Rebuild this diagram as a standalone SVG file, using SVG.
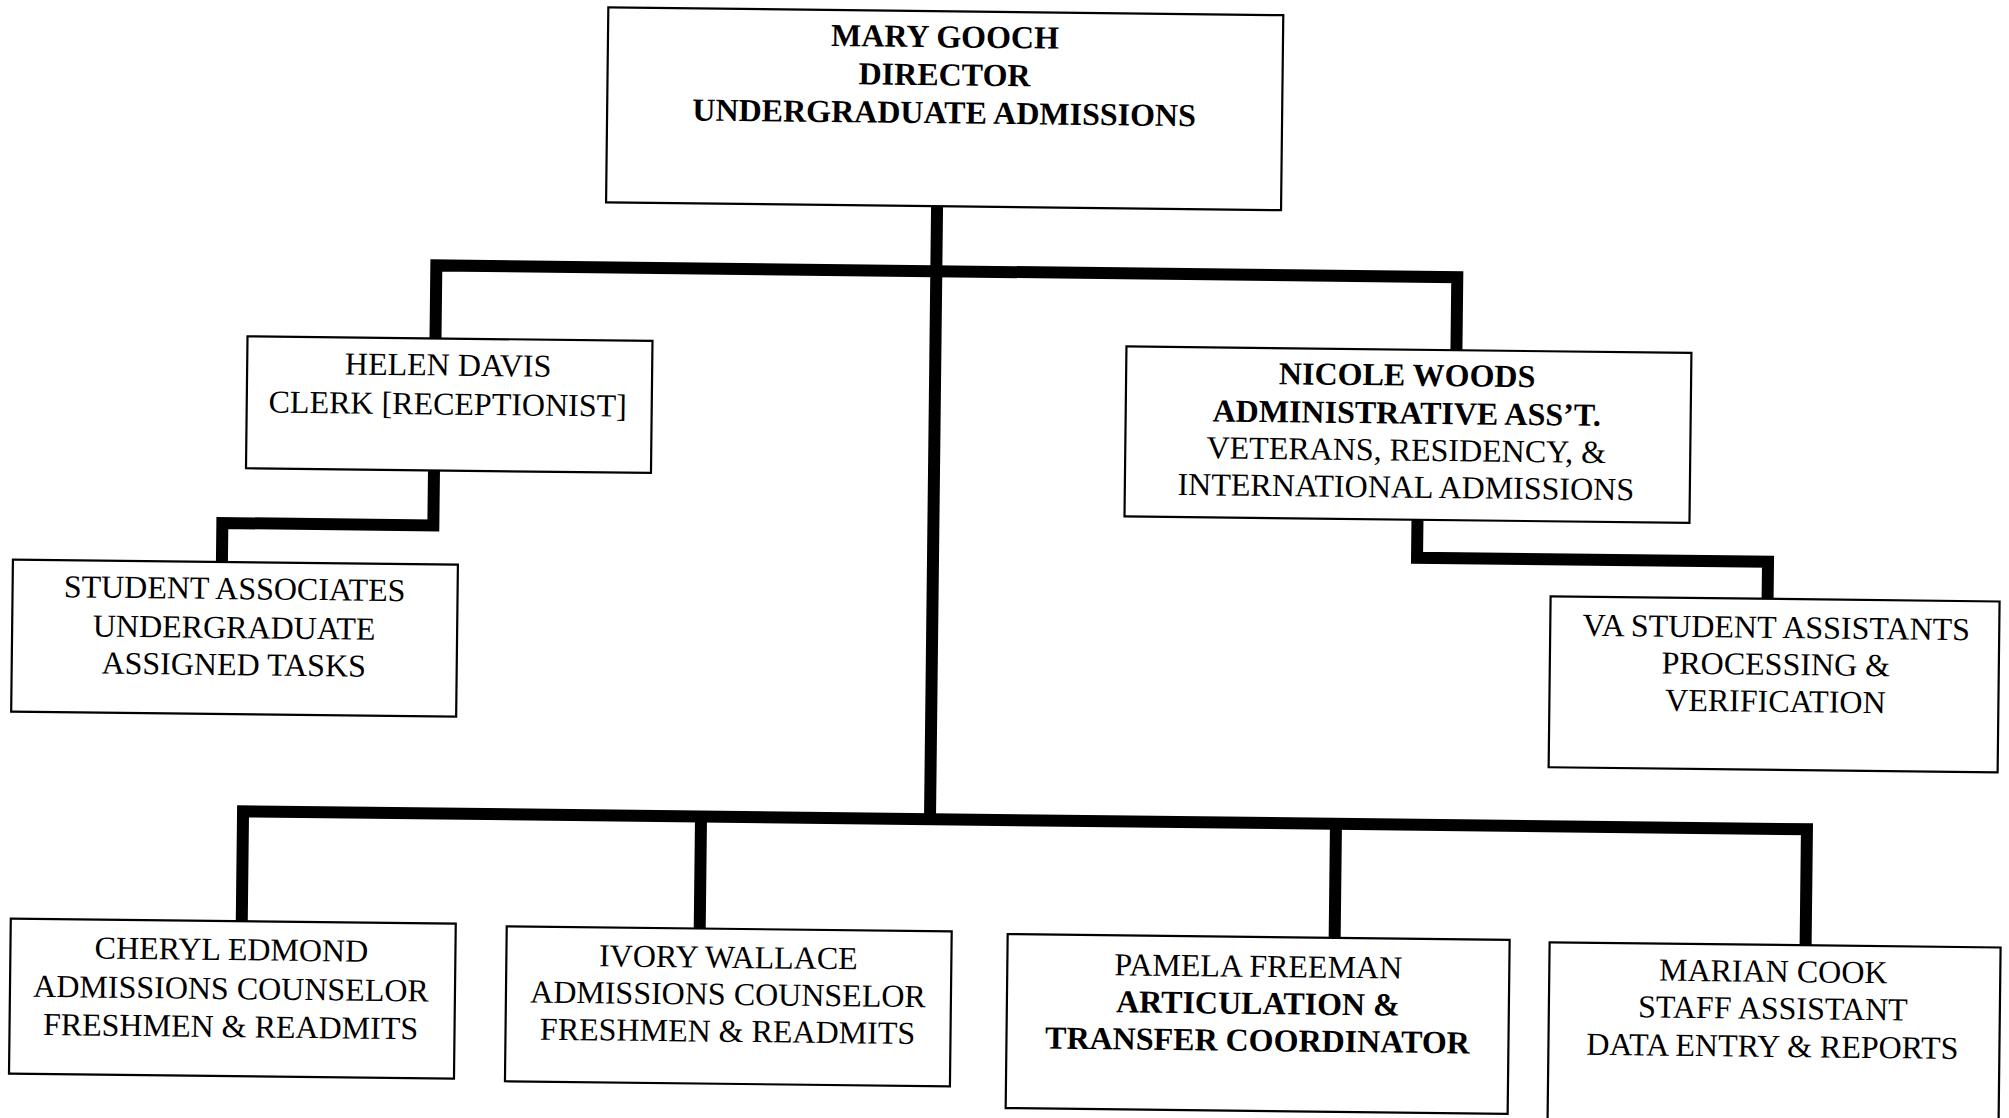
<svg xmlns="http://www.w3.org/2000/svg" width="2009" height="1118" viewBox="0 0 2009 1118">
<style>
.box{fill:#fff;stroke:#000;stroke-width:2.2}
.con{fill:none;stroke:#000;stroke-width:12;stroke-linejoin:miter;stroke-linecap:butt}
text{font-family:"Liberation Serif","Times New Roman",serif;font-size:32px;fill:#000;text-anchor:middle}
.b{font-weight:bold}
</style>
<rect x="0" y="0" width="2009" height="1118" fill="#fff"/>
<g transform="rotate(0.66 1004 559)">
<g id="connectors">
<path class="con" d="M933 207 V820"/>
<path class="con" d="M433 345 V272 H1454 V345"/>
<path class="con" d="M246 930 V820 H1810 V936"/>
<path class="con" d="M704 820 V932"/>
<path class="con" d="M1339 820 V934"/>
<path class="con" d="M433 477 V532 H222 V571"/>
<path class="con" d="M1417 515 V553 H1768 V590"/>
</g>
<g id="director">
<rect class="box" x="602" y="12" width="675" height="195"/>
<text class="b" x="939" y="48">MARY GOOCH</text>
<text class="b" x="939" y="86">DIRECTOR</text>
<text class="b" x="939" y="124">UNDERGRADUATE ADMISSIONS</text>
</g>
<g id="helen">
<rect class="box" x="245" y="345" width="405" height="132"/>
<text x="446" y="382">HELEN DAVIS</text>
<text x="446" y="421">CLERK [RECEPTIONIST]</text>
</g>
<g id="students">
<rect class="box" x="13" y="571" width="445" height="152"/>
<text x="235" y="608">STUDENT ASSOCIATES</text>
<text x="235" y="647">UNDERGRADUATE</text>
<text x="235" y="684">ASSIGNED TASKS</text>
</g>
<g id="nicole">
<rect class="box" x="1124" y="345" width="565" height="170"/>
<text class="b" x="1405" y="381">NICOLE WOODS</text>
<text class="b" x="1405" y="419">ADMINISTRATIVE ASS’T.</text>
<text x="1405" y="456">VETERANS, RESIDENCY, &amp;</text>
<text x="1405" y="493">INTERNATIONAL ADMISSIONS</text>
</g>
<g id="va">
<rect class="box" x="1551" y="590" width="449" height="171"/>
<text x="1777" y="629">VA STUDENT ASSISTANTS</text>
<text x="1777" y="666">PROCESSING &amp;</text>
<text x="1777" y="703">VERIFICATION</text>
</g>
<g id="cheryl">
<rect class="box" x="15" y="930" width="445" height="155"/>
<text x="236" y="969">CHERYL EDMOND</text>
<text x="236" y="1008">ADMISSIONS COUNSELOR</text>
<text x="236" y="1046">FRESHMEN &amp; READMITS</text>
</g>
<g id="ivory">
<rect class="box" x="511" y="932" width="445" height="155"/>
<text x="733" y="971">IVORY WALLACE</text>
<text x="733" y="1008">ADMISSIONS COUNSELOR</text>
<text x="733" y="1045">FRESHMEN &amp; READMITS</text>
</g>
<g id="pamela">
<rect class="box" x="1012" y="934" width="502" height="174"/>
<text x="1263" y="974">PAMELA FREEMAN</text>
<text class="b" x="1263" y="1011">ARTICULATION &amp;</text>
<text class="b" x="1263" y="1048">TRANSFER COORDINATOR</text>
</g>
<g id="marian">
<rect class="box" x="1554" y="936" width="451" height="180"/>
<text x="1778" y="973">MARIAN COOK</text>
<text x="1778" y="1010">STAFF ASSISTANT</text>
<text x="1778" y="1048">DATA ENTRY &amp; REPORTS</text>
</g>
</g>
</svg>
